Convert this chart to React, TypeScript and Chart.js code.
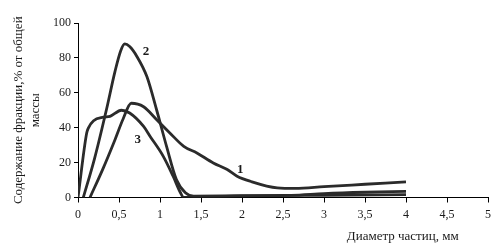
import React, { useEffect, useRef } from "react";
import { Chart, registerables } from "chart.js";

Chart.register(...registerables);

// Curve 1 (long tail)
const c1X = [0.146, 0.3, 0.45, 0.55, 0.65, 0.8, 0.96, 1.12, 1.29, 1.45, 1.65, 1.82, 1.94, 2.1, 2.43, 2.65, 3.0, 3.5, 4.0];
const c1Y = [0, 16, 33, 45, 54, 52, 44.6, 37, 29.3, 25.5, 19.8, 16, 12.2, 9.3, 5.5, 5.2, 6.2, 7.6, 9.0];

// Curve 2 (tall peak)
const c2X = [0.065, 0.2, 0.35, 0.45, 0.52, 0.57, 0.63, 0.72, 0.84, 0.96, 1.08, 1.2, 1.31, 1.41, 2.0, 2.6, 3.0, 3.5, 4.0];
const c2Y = [0, 22, 51, 72, 84, 88, 86.5, 80.7, 69.3, 50, 29.3, 10.3, 2.7, 0.8, 1.0, 1.2, 2.2, 3.0, 3.5];

// Curve 3 (plateau)
const c3X = [0, 0.106, 0.126, 0.19, 0.31, 0.39, 0.53, 0.63, 0.8, 0.88, 1.04, 1.16, 1.25, 1.29, 1.9, 2.5, 3.0, 4.0];
const c3Y = [0, 37, 39.8, 44, 46, 46.5, 50, 48.4, 40.7, 35, 23.6, 12.2, 2.7, 0, 0.8, 1.2, 1.3, 1.6];

const curveLabels = ["1", "2", "3"];
const labelX = [1.98, 0.83, 0.73];
const labelY = [15.8, 83.4, 33];

const xTicks = [0, 0.5, 1, 1.5, 2, 2.5, 3, 3.5, 4, 4.5, 5];
const yTicks = [0, 20, 40, 60, 80, 100];

const yTitle = ["Содержание фракции,% от общей", "массы"];
const xTitle = "Диаметр частиц, мм";
const xTitleAt = 3.96;

const LINE = "#2b2b2b";
const SERIF = "'Liberation Serif', 'Times New Roman', serif";

const pts = (xs: number[], ys: number[]) => xs.map((x, i) => ({ x, y: ys[i] }));

export default function App() {
  const ref = useRef<HTMLCanvasElement | null>(null);
  useEffect(() => {
    document.body.style.margin = "0";
    const canvas = ref.current!;
    const textPlugin = {
      id: "curveText",
      afterDatasetsDraw(chart: any) {
        const { ctx, scales, chartArea } = chart;
        const xs = scales.x;
        const ys = scales.y;
        ctx.save();
        ctx.fillStyle = "#1a1a1a";
        ctx.textAlign = "center";
        ctx.textBaseline = "middle";
        ctx.font = `bold 13px ${SERIF}`;
        curveLabels.forEach((t, i) => {
          ctx.fillText(t, xs.getPixelForValue(labelX[i]), ys.getPixelForValue(labelY[i]));
        });
        ctx.font = `13px ${SERIF}`;
        ctx.fillText(xTitle, xs.getPixelForValue(xTitleAt), chartArea.bottom + 39.5);
        ctx.restore();
      },
    };
    const ds = (data: any) => ({
      data,
      borderColor: LINE,
      borderWidth: 2.8,
      pointRadius: 0,
      fill: false,
      tension: 0.35,
      cubicInterpolationMode: "monotone" as const,
    });
    const chart = new Chart(canvas, {
      type: "line",
      data: {
        datasets: [ds(pts(c1X, c1Y)), ds(pts(c2X, c2Y)), ds(pts(c3X, c3Y))],
      },
      options: {
        animation: false,
        responsive: false,
        layout: { padding: { top: 23, right: 14, bottom: 0, left: 0 } },
        plugins: { legend: { display: false }, tooltip: { enabled: false } },
        scales: {
          x: {
            type: "linear",
            min: 0,
            max: 5,
            afterBuildTicks: (s: any) => {
              s.ticks = xTicks.map((v) => ({ value: v }));
            },
            afterFit: (s: any) => {
              s.height = 53.5;
            },
            ticks: {
              color: "#1a1a1a",
              font: { family: SERIF, size: 12 },
              padding: 5,
              maxRotation: 0,
              autoSkip: false,
              callback: (v: any) => String(v).replace(".", ","),
            },
            grid: { display: true, drawOnChartArea: false, color: "#000", tickLength: 5, tickWidth: 1 },
            border: { display: true, color: "#000", width: 1 },
          },
          y: {
            min: 0,
            max: 100,
            afterBuildTicks: (s: any) => {
              s.ticks = yTicks.map((v) => ({ value: v }));
            },
            afterFit: (s: any) => {
              s.width = 78;
            },
            ticks: {
              color: "#1a1a1a",
              font: { family: SERIF, size: 12 },
              padding: 3,
            },
            grid: { display: true, drawOnChartArea: false, color: "#000", tickLength: 4, tickWidth: 1 },
            border: { display: true, color: "#000", width: 1 },
            title: {
              display: true,
              text: yTitle,
              color: "#1a1a1a",
              font: { family: SERIF, size: 13, lineHeight: 1.3 },
              padding: { top: 10, bottom: 0 },
            },
          },
        },
      },
      plugins: [textPlugin],
    });
    return () => chart.destroy();
  }, []);
  return (
    <div style={{ position: "fixed", left: 0, top: 0, width: 502, height: 251, background: "#fff" }}>
      <canvas ref={ref} width={502} height={251} style={{ display: "block" }} />
    </div>
  );
}
